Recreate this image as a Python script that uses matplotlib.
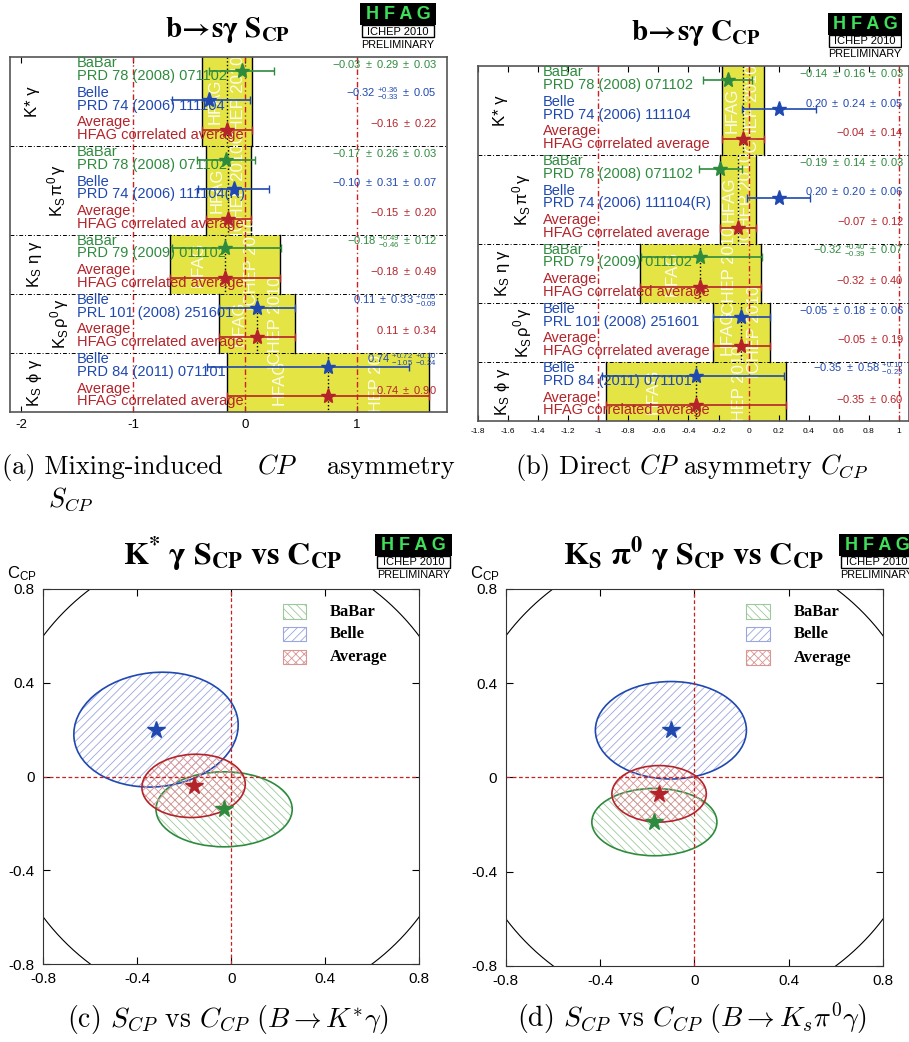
import numpy as np
import matplotlib
matplotlib.use("Agg")
import matplotlib.pyplot as plt
from matplotlib.patches import Rectangle, Ellipse
from matplotlib.transforms import blended_transform_factory

plt.rcParams['font.family'] = ['Liberation Sans', 'DejaVu Sans']
plt.rcParams['mathtext.fontset'] = 'custom'
plt.rcParams['mathtext.rm'] = 'Liberation Sans'
plt.rcParams['mathtext.it'] = 'Liberation Sans:italic'
plt.rcParams['mathtext.bf'] = 'Liberation Sans:bold'
plt.rcParams['axes.unicode_minus'] = False
plt.rcParams['hatch.linewidth'] = 0.6

GREEN, BLUE, RED = '#2e8b3e', '#1f48b0', '#b5232a'
YELLOW = '#e4e445'
exp_color = {'BaBar': GREEN, 'Belle': BLUE}

# b -> s gamma modes and the measurements in each
modes = ['K* γ', r'$\mathrm{K_S\,\pi^0\,\gamma}$', r'$\mathrm{K_S\ \eta\ \gamma}$',
         r'$\mathrm{K_S\,\rho^0\,\gamma}$', r'$\mathrm{K_S\ \phi\ \gamma}$']
meas_mode = [0, 0, 1, 1, 2, 3, 4]
meas_exp = ['BaBar', 'Belle', 'BaBar', 'Belle', 'BaBar', 'Belle', 'Belle']
meas_ref = ['PRD 78 (2008) 071102', 'PRD 74 (2006) 111104', 'PRD 78 (2008) 071102',
            'PRD 74 (2006) 111104(R)', 'PRD 79 (2009) 011102', 'PRL 101 (2008) 251601',
            'PRD 84 (2011) 071101']

# S_CP
S_val = [-0.03, -0.32, -0.17, -0.10, -0.18, 0.11, 0.74]
S_stat_hi = [0.29, 0.36, 0.26, 0.31, 0.49, 0.33, 0.72]
S_stat_lo = [0.29, 0.33, 0.26, 0.31, 0.46, 0.33, 1.05]
S_syst_hi = [0.03, 0.05, 0.03, 0.07, 0.12, 0.05, 0.10]
S_syst_lo = [0.03, 0.05, 0.03, 0.07, 0.12, 0.09, 0.24]
S_avg = [-0.16, -0.15, -0.18, 0.11, 0.74]
S_avg_err = [0.22, 0.20, 0.49, 0.34, 0.90]
S_ticks = [-2, -1, 0, 1]

# C_CP
C_val = [-0.14, 0.20, -0.19, 0.20, -0.32, -0.05, -0.35]
C_stat_hi = [0.16, 0.24, 0.14, 0.20, 0.40, 0.18, 0.58]
C_stat_lo = [0.16, 0.24, 0.14, 0.20, 0.39, 0.18, 0.58]
C_syst_hi = [0.03, 0.05, 0.03, 0.06, 0.07, 0.06, 0.10]
C_syst_lo = [0.03, 0.05, 0.03, 0.06, 0.07, 0.06, 0.23]
C_avg = [-0.04, -0.07, -0.32, -0.05, -0.35]
C_avg_err = [0.14, 0.12, 0.40, 0.19, 0.60]
C_ticks = [-1.8, -1.6, -1.4, -1.2, -1, -0.8, -0.6, -0.4, -0.2, 0, 0.2, 0.4, 0.6, 0.8, 1]

# S vs C ellipses: BaBar, Belle, Average
ell_names = ['BaBar', 'Belle', 'Average']
Kst_S = [-0.03, -0.32, -0.16]
Kst_Serr = [0.29, 0.35, 0.22]
Kst_C = [-0.14, 0.20, -0.04]
Kst_Cerr = [0.16, 0.245, 0.135]
Kst_rho = [0.0, 0.08, 0.05]
Kspi_S = [-0.17, -0.10, -0.15]
Kspi_Serr = [0.265, 0.32, 0.20]
Kspi_C = [-0.19, 0.20, -0.07]
Kspi_Cerr = [0.143, 0.207, 0.12]
Kspi_rho = [0.0, 0.0, 0.0]
ell_ticks = [-0.8, -0.4, 0, 0.4, 0.8]

W, H = 909, 1042
fig = plt.figure(figsize=(W / 100, H / 100), dpi=100)


def box(x0, y0, x1, y1):
    return fig.add_axes([x0 / W, 1 - y1 / H, (x1 - x0) / W, (y1 - y0) / H])


def ftext(x, y, s, **kw):
    return fig.text(x / W, 1 - y / H, s, **kw)


def pm(hi, lo):
    if hi == lo:
        return r'\pm\ %.2f' % hi
    return r'{}^{+%.2f}_{-%.2f}' % (hi, lo)


def cp_panel(ax, val, sth, stl, syh, syl, avg, aerr, xlim, ticks, tick_fs, mode_x, name_x, val_x):
    ax.set_xlim(*xlim)
    ax.set_ylim(12, 0)
    tr = blended_transform_factory(ax.transAxes, ax.transData)
    for x in [-1, 0, 1]:
        ax.axvline(x, color='#cc2020', ls=(0, (4, 2, 1, 2)), lw=1, zorder=1.6)
    row = 0
    for m in range(len(modes)):
        idx = [i for i in range(len(val)) if meas_mode[i] == m]
        top, bot = row, row + len(idx) + 1
        lo, hi = avg[m] - aerr[m], avg[m] + aerr[m]
        band = Rectangle((lo, top), hi - lo, bot - top, facecolor=YELLOW, edgecolor='none', zorder=1)
        ax.add_patch(band)
        ax.plot([lo, lo], [top, bot], color='k', lw=1, zorder=1.2)
        ax.plot([hi, hi], [top, bot], color='k', lw=1, zorder=1.2)
        ax.plot([avg[m], avg[m]], [top, bot], color='k', ls=':', lw=1, zorder=1.7)
        mid = (top + bot) / 2
        for dx, s in [(-0.24, 'HFAG'), (0.24, 'ICHEP 2010')]:
            t = ax.text(avg[m] + dx * (hi - lo), mid, s, rotation=90, color='white', alpha=0.9,
                        fontsize=12, ha='center', va='center', zorder=1.4)
            t.set_clip_path(band)
        for k, i in enumerate(idx):
            r = row + k
            c = exp_color[meas_exp[i]]
            ax.text(name_x, r + 0.21, meas_exp[i], transform=tr, color=c, fontsize=10.5, va='center')
            ax.text(name_x, r + 0.64, meas_ref[i], transform=tr, color=c, fontsize=10.5, va='center')
            ax.text(val_x, r + 0.24, r'$%.2f\ %s\ %s$' % (val[i], pm(sth[i], stl[i]), pm(syh[i], syl[i])),
                    transform=tr, color=c, fontsize=8, ha='right', va='center')
            ehi, elo = np.hypot(sth[i], syh[i]), np.hypot(stl[i], syl[i])
            ax.errorbar(val[i], r + 0.47, xerr=[[elo], [ehi]], fmt='*', ms=11, color=c,
                        capsize=3, lw=1.2, zorder=5)
        r = row + len(idx)
        ax.text(name_x, r + 0.21, 'Average', transform=tr, color=RED, fontsize=10.5, va='center')
        ax.text(name_x, r + 0.64, 'HFAG correlated average', transform=tr, color=RED, fontsize=10.5,
                va='center')
        ax.text(val_x, r + 0.24, r'$%.2f\ \pm\ %.2f$' % (avg[m], aerr[m]), transform=tr, color=RED,
                fontsize=8, ha='right', va='center')
        ax.errorbar(avg[m], r + 0.47, xerr=aerr[m], fmt='*', ms=11, color=RED, capsize=3, lw=1.2, zorder=5)
        ax.text(mode_x[m], mid, modes[m], transform=tr, rotation=90, fontsize=12, ha='center', va='center')
        if m > 0:
            ax.axhline(top, color='k', ls=(0, (4, 2, 1, 2)), lw=0.7, zorder=1.5)
        row = bot
    ax.set_xticks(ticks)
    ax.set_xticklabels(['%g' % t for t in ticks])
    ax.set_yticks([])
    ax.tick_params(axis='x', direction='in', top=True, length=4, labelsize=tick_fs, pad=5)
    for sp in ax.spines.values():
        sp.set_color('#555555')
        sp.set_linewidth(1.2)


def logo(x0, y0, x1, y1):
    la = box(x0, y0, x1, y1)
    la.set_xlim(0, 1)
    la.set_ylim(1, 0)
    la.axis('off')
    la.add_patch(Rectangle((0, 0), 1, 0.47, facecolor='black', edgecolor='none'))
    la.text(0.5, 0.25, 'H F A G', color='#3ee05a', fontsize=13, weight='bold', ha='center', va='center')
    la.add_patch(Rectangle((0.02, 0.47), 0.96, 0.26, facecolor='white', edgecolor='black', lw=1))
    la.text(0.5, 0.61, 'ICHEP 2010', fontsize=8, ha='center', va='center')
    la.text(0.5, 0.89, 'PRELIMINARY', fontsize=7.8, ha='center', va='center')


def ellipse_panel(ax, S, Serr, C, Cerr, rho):
    ax.set_xlim(-0.8, 0.8)
    ax.set_ylim(-0.8, 0.8)
    th = np.linspace(0, 2 * np.pi, 600)
    ax.plot(np.cos(th), np.sin(th), color='k', lw=0.8)
    ax.axvline(0, color='#cc2020', ls=(0, (3, 2)), lw=0.9)
    ax.axhline(0, color='#cc2020', ls=(0, (3, 2)), lw=0.9)
    cols = [GREEN, BLUE, RED]
    light = ['#9cc99c', '#9aa6dd', '#d99494']
    hatches = ['\\\\\\\\', '////', 'xxxx']
    for i in range(3):
        cov = np.array([[Serr[i] ** 2, rho[i] * Serr[i] * Cerr[i]],
                        [rho[i] * Serr[i] * Cerr[i], Cerr[i] ** 2]])
        ev, vec = np.linalg.eigh(cov)
        ang = np.degrees(np.arctan2(vec[1, 1], vec[0, 1]))
        w, h = 2 * np.sqrt(ev[1]), 2 * np.sqrt(ev[0])
        ax.add_patch(Ellipse((S[i], C[i]), w, h, angle=ang, facecolor='none', edgecolor=light[i],
                             hatch=hatches[i], lw=0))
        ax.add_patch(Ellipse((S[i], C[i]), w, h, angle=ang, facecolor='none', edgecolor=cols[i], lw=1.2))
        ax.plot(S[i], C[i], '*', color=cols[i], ms=13, zorder=5)
        yy = [0.94, 0.88, 0.818][i]
        ax.add_patch(Rectangle((0.637, yy - 0.019), 0.062, 0.038, transform=ax.transAxes,
                               facecolor='none', edgecolor=light[i], hatch=hatches[i], lw=0.8))
        ax.text(0.763, yy, ell_names[i], transform=ax.transAxes, fontsize=12, weight='bold',
                family='Liberation Serif', va='center')
    ax.set_xticks(ell_ticks)
    ax.set_xticklabels(['%g' % t for t in ell_ticks])
    ax.set_yticks(ell_ticks)
    ax.set_yticklabels(['%g' % t for t in ell_ticks])
    ax.tick_params(direction='in', top=True, right=True, length=5, labelsize=11, pad=6)
    for sp in ax.spines.values():
        sp.set_color('#333333')


# (a) S_CP
axa = box(10, 57, 447, 412)
cp_panel(axa, S_val, S_stat_hi, S_stat_lo, S_syst_hi, S_syst_lo, S_avg, S_avg_err,
         ((10 - 245) / 112, (447 - 245) / 112), S_ticks, 9.5,
         [(p - 10) / 437 for p in [32, 57, 35, 60, 35]], 0.153, 0.977)
# (b) C_CP
axb = box(478, 66, 909, 421)
cp_panel(axb, C_val, C_stat_hi, C_stat_lo, C_syst_hi, C_syst_lo, C_avg, C_avg_err,
         (-1.8, 1.067), C_ticks, 6,
         [(p - 478) / 431 for p in [500, 522, 502, 523, 502]], 0.151, 0.988)

# (c), (d) S vs C
axc = box(43.3, 589, 419, 964)
ellipse_panel(axc, Kst_S, Kst_Serr, Kst_C, Kst_Cerr, Kst_rho)
axd = box(505.7, 589, 883.3, 965.7)
ellipse_panel(axd, Kspi_S, Kspi_Serr, Kspi_C, Kspi_Cerr, Kspi_rho)
ftext(22, 578, r'C$_{\mathrm{CP}}$', fontsize=12, ha='center', va='baseline')
ftext(485, 578, r'C$_{\mathrm{CP}}$', fontsize=12, ha='center', va='baseline')

# titles
tkw = dict(math_fontfamily='stix', ha='center', va='baseline')
ftext(228, 37, r'$\mathbf{b\!\rightarrow\! s\gamma\ S_{CP}}$', fontsize=21, **tkw)
ftext(696, 40, r'$\mathbf{b\!\rightarrow\! s\gamma\ C_{CP}}$', fontsize=21, **tkw)
ftext(232, 565, r'$\mathbf{K^{*}\ \gamma\ S_{CP}\ vs\ C_{CP}}$', fontsize=23, **tkw)
ftext(694, 565, r'$\mathbf{K_{S}\ \pi^{0}\ \gamma\ S_{CP}\ vs\ C_{CP}}$', fontsize=23, **tkw)

logo(360, 3, 436, 50)
logo(828, 13, 902, 59)
logo(375, 534, 452, 580)
logo(839, 534, 915, 580)

# captions
ckw = dict(fontfamily='cmr10', math_fontfamily='cm', fontsize=19, va='baseline')
ftext(2, 474, '(a) Mixing-induced', **ckw)
ftext(277, 474, r'$CP$', ha='center', **ckw)
ftext(327, 474, 'asymmetry', **ckw)
ftext(48, 507, r'$S_{CP}$', **ckw)
ftext(692, 474, r'(b) Direct $CP$ asymmetry $C_{CP}$', ha='center', **ckw)
ftext(228, 1027, r'(c) $S_{CP}$ vs $C_{CP}$ $(B \to K^{*}\gamma)$', ha='center', fontfamily='cmr10',
      math_fontfamily='cm', fontsize=20, va='baseline')
ftext(692, 1027, r'(d) $S_{CP}$ vs $C_{CP}$ $(B \to K_s\pi^0\gamma)$', ha='center', fontfamily='cmr10',
      math_fontfamily='cm', fontsize=20, va='baseline')

fig.savefig('out.png', dpi=100)
